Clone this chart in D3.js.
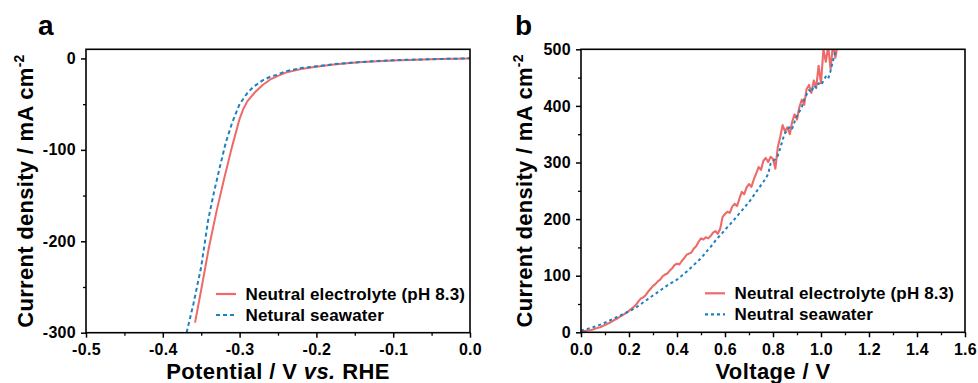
<!DOCTYPE html>
<html>
<head>
<meta charset="utf-8">
<script src="https://cdn.jsdelivr.net/npm/d3@7"></script>
<style>
  html, body { margin: 0; padding: 0; background: #fff; }
  svg { display: block; }
  text { font-family: "Liberation Sans", Arial, sans-serif; font-weight: bold; fill: #000; }
</style>
</head>
<body>
<svg id="chart" width="978" height="383"></svg>
<script>
// ---------- Panel a data (LSV) ----------
const aRedX = [-0.358,-0.350,-0.340,-0.330,-0.320,-0.310,-0.300,-0.295,-0.290,-0.280,-0.270,-0.260,-0.250,-0.240,-0.220,-0.200,-0.180,-0.160,-0.140,-0.120,-0.100,-0.080,-0.060,-0.040,-0.020,0.000];
const aRedY = [-289,-253,-207,-167,-131,-97,-66,-55,-47,-37,-29,-23,-19,-15.5,-11.5,-9,-6.8,-5.2,-4.0,-3.0,-2.2,-1.6,-1.1,-0.7,-0.3,0];
const aBlueX = [-0.369,-0.360,-0.350,-0.341,-0.333,-0.3255,-0.318,-0.310,-0.300,-0.290,-0.282,-0.270,-0.260,-0.252,-0.240,-0.220,-0.200,-0.180,-0.160,-0.140,-0.120,-0.100,-0.080,-0.060,-0.040,-0.020,0.000];
const aBlueY = [-300,-268,-228,-177,-145,-118,-92,-71,-50,-38,-31,-24,-20,-18,-14,-10.5,-8.6,-6.5,-5,-3.8,-2.8,-2,-1.4,-1,-0.6,-0.3,0.2];
const aXTicks = [-0.5,-0.4,-0.3,-0.2,-0.1,0.0];
const aXTickLabels = ["-0.5","-0.4","-0.3","-0.2","-0.1","0.0"];
const aYTicks = [-300,-200,-100,0];
const aYTickLabels = ["-300","-200","-100","0"];

// ---------- Panel b data (two-electrode polarization), sampled every 0.01 V from 0 V ----------
const bStep = 0.01;
const bRedY = [1,2,2.5,3.5,4,5,6.5,8,9,11,
  13,15,17,19.5,22,24,27,29.5,32,35,
  38,41.5,45,49,55,60,62,66,72,77,
  82,85,90,93,99,102,104,109,113,119,
  121,120,126,131,137,139,141,148,152,160,
  166,164,168,166,170,176,179,174,183,204,
  209,213,211,222,227,223,236,248,244,256,
  262,257,270,281,292,287,303,308,301,310,
  306,289,327,345,366,355,362,350,372,385,
  376,398,411,402,430,437,423,445,432,471,
  440,500,478,505,465,510,485,510];
const bBlueY = [3,4,5,6.5,8,9,10.5,12,13.5,15,
  17,19,21,23,25,27,29,31,33,35,
  37,39,41.5,44,47,50,53,56,59,62,
  65,68,71,74,77,80,83,86,88,91,
  93,97,100,104,107,111,115,119,123,127,
  131,136,141,146,151,156,162,167,171,176,
  181,186,190,195,200,205,210,215,220,225,
  230,236,242,248,254,260,266,272,280,298,
  302,306,312,325,340,352,356,364,360,372,
  382,390,398,412,420,428,424,436,432,440,
  437,444,452,448,462,480,495,505];
const bXTicks = [0,0.2,0.4,0.6,0.8,1.0,1.2,1.4,1.6];
const bXTickLabels = ["0.0","0.2","0.4","0.6","0.8","1.0","1.2","1.4","1.6"];
const bYTicks = [0,100,200,300,400,500];
const bYTickLabels = ["0","100","200","300","400","500"];

const seriesNames = ["Neutral electrolyte (pH 8.3)", "Netural seawater", "Neutral seawater"];
const RED = "#ee6a68", BLUE = "#1b80c4";

const svg = d3.select("#chart");

function panel(cfg) {
  const g = svg.append("g");
  const x = d3.scaleLinear().domain(cfg.xDomain).range([cfg.left, cfg.right]);
  const y = d3.scaleLinear().domain(cfg.yDomain).range([cfg.bottom, cfg.top]);

  const clipId = "clip" + cfg.id;
  svg.append("defs").append("clipPath").attr("id", clipId)
    .append("rect").attr("x", cfg.left).attr("y", cfg.top)
    .attr("width", cfg.right - cfg.left).attr("height", cfg.bottom - cfg.top);

  // minor ticks
  const xMinor = g.append("g").attr("transform", `translate(0,${cfg.bottom})`)
    .call(d3.axisBottom(x).tickValues(cfg.xMinor).tickSize(3).tickFormat(""));
  const yMinor = g.append("g").attr("transform", `translate(${cfg.left},0)`)
    .call(d3.axisLeft(y).tickValues(cfg.yMinor).tickSize(3).tickFormat(""));
  [xMinor, yMinor].forEach(s => { s.select(".domain").remove(); s.selectAll("line").attr("stroke-width", 1.3); });

  const xa = g.append("g").attr("transform", `translate(0,${cfg.bottom})`)
    .call(d3.axisBottom(x).tickValues(cfg.xTicks).tickSize(5).tickPadding(6)
      .tickFormat((d, i) => cfg.xTickLabels[i]));
  const ya = g.append("g").attr("transform", `translate(${cfg.left},0)`)
    .call(d3.axisLeft(y).tickValues(cfg.yTicks).tickSize(5).tickPadding(5)
      .tickFormat((d, i) => cfg.yTickLabels[i]));
  [xa, ya].forEach(s => {
    s.select(".domain").remove();
    s.selectAll("line").attr("stroke-width", 1.5);
    s.selectAll("text").attr("font-size", 16).attr("font-family", "Liberation Sans, Arial, sans-serif")
      .attr("font-weight", "bold").attr("letter-spacing", 0.3);
  });

  const plot = g.append("g").attr("clip-path", `url(#${clipId})`);
  const line = d3.line().x(d => x(d[0])).y(d => y(d[1]));
  cfg.series.forEach(s => {
    plot.append("path").datum(s.data).attr("d", line)
      .attr("fill", "none").attr("stroke", s.color).attr("stroke-width", s.width)
      .attr("stroke-dasharray", s.dash || null).attr("stroke-linejoin", "round");
  });

  // frame
  g.append("rect").attr("x", cfg.left).attr("y", cfg.top)
    .attr("width", cfg.right - cfg.left).attr("height", cfg.bottom - cfg.top)
    .attr("fill", "none").attr("stroke", "#000").attr("stroke-width", 1.6);

  // legend
  cfg.series.forEach((s, i) => {
    const ly = cfg.legendY + i * 21;
    g.append("line").attr("x1", cfg.legendX).attr("x2", cfg.legendX + 20)
      .attr("y1", ly).attr("y2", ly).attr("stroke", s.color).attr("stroke-width", 2.2)
      .attr("stroke-dasharray", s.dash || null);
    g.append("text").attr("x", cfg.legendX + 29.5).attr("y", ly + 6)
      .attr("font-size", 17).attr("letter-spacing", 0.15).text(s.name);
  });

  // axis titles
  const t = g.append("text").attr("x", (cfg.left + cfg.right) / 2).attr("y", 379)
    .attr("text-anchor", "middle").attr("font-size", 22).attr("letter-spacing", 0.4);
  cfg.xTitleParts.forEach(p => t.append("tspan").attr("font-style", p.italic ? "italic" : null).text(p.text));

  const yt = g.append("text")
    .attr("transform", `translate(${cfg.yTitleX},${(cfg.top + cfg.bottom) / 2}) rotate(-90)`)
    .attr("text-anchor", "middle").attr("font-size", 22).attr("letter-spacing", 0.3);
  yt.append("tspan").text("Current density / mA cm");
  yt.append("tspan").attr("font-size", 14).attr("dy", -9).text("-2");

  // panel letter
  g.append("text").attr("x", cfg.letterX).attr("y", 35).attr("font-size", 28).text(cfg.letter);
}

panel({
  id: "a", left: 86, right: 470, top: 49.3, bottom: 332.7,
  xDomain: [-0.5, 0], yDomain: [-300, 10],
  xTicks: aXTicks, xTickLabels: aXTickLabels,
  yTicks: aYTicks, yTickLabels: aYTickLabels,
  xMinor: [-0.45,-0.35,-0.25,-0.15,-0.05], yMinor: [-250,-150,-50],
  series: [
    { name: seriesNames[0], color: RED, width: 2, data: aRedX.map((v, i) => [v, aRedY[i]]) },
    { name: seriesNames[1], color: BLUE, width: 2, dash: "4,3", data: aBlueX.map((v, i) => [v, aBlueY[i]]) }
  ],
  legendX: 216, legendY: 294,
  xTitleParts: [{text: "Potential / V "}, {text: "vs.", italic: true}, {text: " RHE"}],
  yTitleX: 33, letter: "a", letterX: 38
});

panel({
  id: "b", left: 581, right: 965, top: 49.3, bottom: 332.3,
  xDomain: [0, 1.6], yDomain: [0, 500],
  xTicks: bXTicks, xTickLabels: bXTickLabels,
  yTicks: bYTicks, yTickLabels: bYTickLabels,
  xMinor: [0.1,0.3,0.5,0.7,0.9,1.1,1.3,1.5], yMinor: [50,150,250,350,450],
  series: [
    { name: seriesNames[0], color: RED, width: 2.1, data: bRedY.map((v, i) => [i * bStep, v]) },
    { name: seriesNames[2], color: BLUE, width: 2, dash: "3,3", data: bBlueY.map((v, i) => [i * bStep, v]) }
  ],
  legendX: 705, legendY: 293.3,
  xTitleParts: [{text: "Voltage / V"}],
  yTitleX: 532, letter: "b", letterX: 515
});
</script>
</body>
</html>
